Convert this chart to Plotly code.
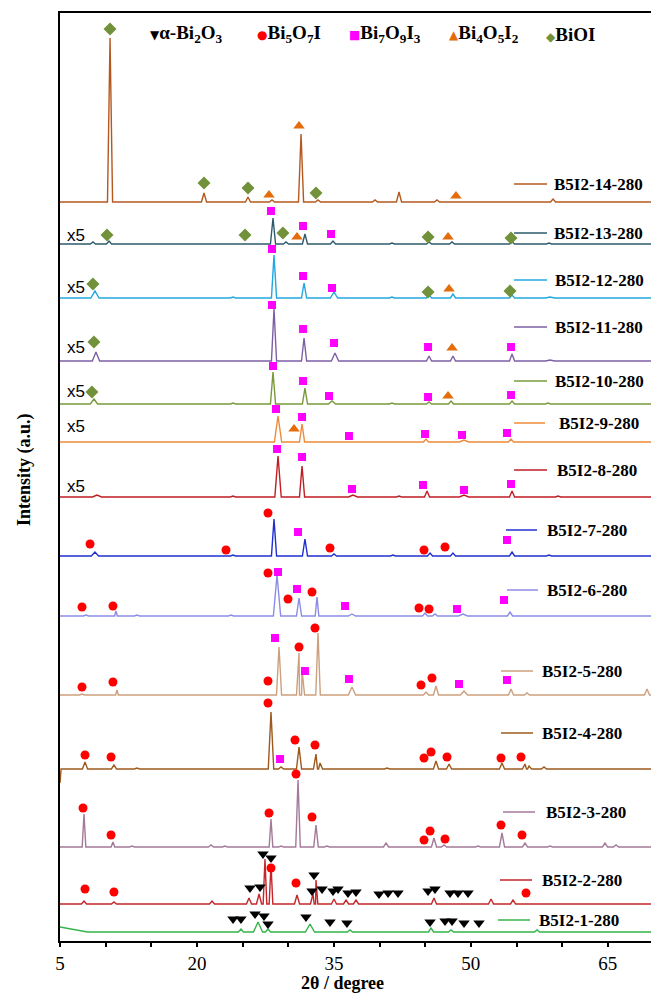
import plotly.graph_objects as go

# ---------------- data (2θ in degree, intensity in a.u. with stacking offsets) ----------------
NAMES = ["B5I2-14-280", "B5I2-13-280", "B5I2-12-280", "B5I2-11-280", "B5I2-10-280",
         "B5I2-9-280", "B5I2-8-280", "B5I2-7-280", "B5I2-6-280", "B5I2-5-280",
         "B5I2-4-280", "B5I2-3-280", "B5I2-2-280", "B5I2-1-280"]
OFFSETS = [739, 697, 643, 580, 537, 499, 444, 385, 325, 246, 172, 94, 37, 9]

# peaks: (2θ, height above baseline[, half width])
PEAKS_14 = [(10.48, 164), (20.77, 9), (25.59, 5), (28.22, 2), (31.40, 68), (33.26, 2),
            (39.50, 2), (42.13, 10), (46.29, 2), (59.00, 3)]
PEAKS_13 = [(8.61, 2), (10.37, 3), (28.33, 26), (29.75, 2), (31.83, 10), (34.90, 3),
            (41.36, 1), (45.42, 2), (47.94, 2), (54.51, 2), (58.56, 1)]
PEAKS_12 = [(8.83, 7, 0.45), (23.95, 1), (28.44, 43), (31.73, 15), (35.01, 6, 0.4), (41.36, 1),
            (45.42, 3), (48.04, 4), (54.51, 3), (58.67, 1, 0.5)]
PEAKS_11 = [(8.94, 9, 0.4), (28.44, 52), (31.73, 23), (35.12, 8, 0.4), (45.42, 5), (48.04, 5),
            (54.51, 7), (58.67, 1, 0.5)]
PEAKS_10 = [(8.72, 5, 0.4), (23.95, 1), (28.33, 32), (31.83, 16), (34.79, 3, 0.4), (41.36, 1),
            (45.42, 2), (47.83, 3), (54.51, 3), (58.45, 1)]
PEAKS_9 = [(28.88, 26, 0.4), (31.51, 18), (45.09, 3), (49.25, 2, 0.5), (54.40, 3)]
PEAKS_8 = [(9.05, 2, 0.5), (23.95, 1), (28.88, 41, 0.35), (31.51, 31), (37.09, 2, 0.5), (42.13, 1),
           (45.20, 6), (49.25, 2, 0.5), (54.51, 6), (59.55, 1)]
PEAKS_7 = [(8.83, 4, 0.4), (23.95, 1), (28.44, 37), (31.83, 17), (35.01, 2), (41.47, 1),
           (45.53, 3), (48.04, 3), (54.51, 4), (58.56, 1)]
PEAKS_6 = [(7.85, 1), (11.13, 5, 0.15), (13.43, 1), (23.73, 1), (28.77, 41, 0.4), (31.18, 18),
           (33.15, 19, 0.2), (36.98, 2, 0.4), (44.98, 3), (46.07, 2), (49.14, 2, 0.5), (54.29, 4)]
PEAKS_5 = [(7.41, 1), (11.24, 5, 0.15), (28.99, 48), (31.18, 42), (31.51, 25), (33.26, 62, 0.25),
           (36.98, 8, 0.4), (45.09, 3), (46.18, 9), (49.25, 4, 0.4), (54.40, 6), (56.15, 2), (69.29, 6)]
PEAKS_4 = [(5.0, -14, 0.12), (7.74, 7), (10.91, 4), (13.43, 1), (28.11, 57, 0.3), (29.21, 2),
           (31.18, 22), (33.04, 15), (33.48, 6), (40.82, 1), (46.18, 8), (47.61, 5), (53.41, 6),
           (55.93, 5), (56.37, 3), (58.01, 2)]
PEAKS_3 = [(7.63, 33, 0.2), (10.80, 5, 0.2), (12.89, 1), (21.54, 2), (23.07, 1), (28.11, 28, 0.2),
           (29.21, 1), (31.07, 67, 0.25), (33.04, 22, 0.25), (34.24, 1), (40.71, 4), (45.96, 9),
           (47.06, 2), (50.78, 1), (53.41, 14), (55.93, 4), (58.67, 1), (64.69, 4), (65.90, 2)]
PEAKS_2 = [(7.63, 3), (10.91, 2), (21.65, 3), (25.70, 6), (26.80, 10), (27.45, 45, 0.2),
           (28.11, 40, 0.2), (30.96, 9), (32.71, 10), (33.04, 24, 0.2), (35.01, 5), (36.33, 4),
           (37.42, 4), (45.96, 6), (52.21, 5), (54.62, 4)]
PEAKS_1 = [(5.0, 5, 3.0), (24.82, 3), (26.69, 10, 0.5), (27.78, 3), (32.38, 8, 0.5), (36.76, 2),
           (45.64, 4), (47.83, 2), (57.25, 2)]
ALL_PEAKS = [PEAKS_14, PEAKS_13, PEAKS_12, PEAKS_11, PEAKS_10, PEAKS_9, PEAKS_8,
             PEAKS_7, PEAKS_6, PEAKS_5, PEAKS_4, PEAKS_3, PEAKS_2, PEAKS_1]

# phase markers (2θ, stacked intensity)
BIOI_X = [10.48, 20.77, 25.59, 33.04, 10.15, 25.26, 29.42, 45.31, 54.40, 8.61, 45.31, 54.29, 8.72, 8.50]
BIOI_Y = [912, 758, 753, 748, 706, 706, 708, 704, 703, 657, 649, 650, 599, 549]

BI4_X = [27.89, 31.18, 48.37, 30.96, 47.50, 47.61, 47.94, 47.50, 30.63]
BI4_Y = [746, 815, 745, 704, 704, 652, 593, 545, 512]

BI7_X = [28.11, 31.62, 34.68, 28.22, 31.62, 34.79, 28.22, 31.62, 35.01, 45.31, 54.40,
         28.33, 31.62, 34.46, 45.31, 54.40, 28.66, 31.51, 36.65, 44.98, 49.03, 53.96,
         28.77, 31.51, 36.98, 44.76, 49.25, 54.40, 31.07, 53.96,
         28.88, 30.96, 36.22, 48.48, 53.63, 28.55, 31.83, 36.65, 48.70, 53.96, 29.10]
BI7_Y = [730, 715, 707, 692, 665, 653, 636, 612, 598, 594, 594,
         575, 560, 545, 544, 546, 532, 524, 505, 507, 506, 508,
         492, 484, 452, 456, 451, 457, 409, 401,
         369, 352, 335, 332, 341, 303, 270, 262, 257, 261, 182]

BI5_X = [8.29, 23.18, 27.78, 34.57, 44.87, 47.17,
         7.41, 10.80, 27.78, 29.97, 32.60, 44.32, 45.42,
         7.41, 10.80, 27.78, 31.18, 32.93, 44.54, 45.74,
         7.74, 10.59, 27.78, 30.74, 32.93, 44.87, 45.64, 47.39, 53.30, 55.49,
         7.52, 10.59, 27.89, 30.85, 32.60, 44.87, 45.53, 47.17, 53.30, 55.60,
         7.74, 10.91, 28.11, 30.85, 56.04]
BI5_Y = [397, 391, 428, 393, 391, 394,
         334, 335, 368, 342, 349, 333, 332,
         254, 259, 260, 294, 313, 256, 263,
         186, 184, 238, 201, 196, 183, 189, 184, 183, 184,
         133, 106, 128, 167, 124, 101, 110, 102, 116, 106,
         52, 49, 73, 58, 48]

BI2O3_X = [25.81, 26.91, 27.23, 28.11, 32.82, 32.60, 33.70, 34.90, 35.45, 36.54, 37.42, 39.94,
           40.93, 42.02, 45.31, 46.07, 47.72, 48.59, 49.69,
           23.95, 24.82, 26.36, 27.34, 27.78, 31.94, 34.57, 36.43, 45.53, 47.17, 47.94, 49.25, 50.89]
BI2O3_Y = [53, 54, 87, 83, 66, 50, 52, 50, 52, 48, 49, 47, 48, 48, 50, 52, 48, 48, 48,
           22, 22, 27, 25, 17, 24, 19, 18, 19, 20, 20, 18, 18]

X5_SERIES = ["B5I2-13-280", "B5I2-12-280", "B5I2-11-280", "B5I2-10-280", "B5I2-9-280", "B5I2-8-280"]
TICKS = [5, 20, 35, 50, 65]

# ---------------- styles / layout ----------------
COLORS = ["#B5581F", "#2E5B6B", "#22A8E0", "#7D5FA5", "#7A9A3A", "#EE8A3A", "#C01D24",
          "#2030D0", "#8C8CE6", "#CCA07E", "#9C5A1C", "#A37A98", "#C4262A", "#33B44A"]
# label line x0, x1, y ; text x
LBL = [(54.73, 58.34, 757, 58.89), (54.73, 58.34, 708, 58.89), (54.73, 58.34, 661, 59.00),
       (54.73, 58.34, 614, 59.00), (54.73, 58.34, 560, 59.00), (54.73, 58.12, 518, 59.44),
       (54.73, 58.34, 471, 59.22), (53.85, 57.25, 411, 58.12), (53.96, 57.35, 351, 58.12),
       (53.30, 56.81, 270, 57.57), (53.30, 56.81, 208, 57.57), (53.52, 57.03, 129, 58.01),
       (53.19, 56.70, 61, 57.57), (52.97, 56.48, 21, 57.25)]
X5_Y = [706, 654, 594, 550, 515, 455]
HW = 0.28
X_START, X_END = 4.0, 70.0
FONT = "Liberation Serif"


def profile(peaks, offset):
    pts = [(X_START, 0.0), (X_END, 0.0)]
    for pk in peaks:
        pos, h = pk[0], pk[1]
        w = pk[2] if len(pk) > 2 else HW
        pts += [(pos - w, 0.0), (pos, h), (pos + w, 0.0)]
    pts.sort()
    return [p[0] for p in pts], [offset + p[1] for p in pts]


fig = go.Figure()
for name, off, peaks, col in zip(NAMES, OFFSETS, ALL_PEAKS, COLORS):
    xs, ys = profile(peaks, off)
    fig.add_trace(go.Scatter(x=xs, y=ys, mode="lines", name=name,
                             line=dict(color=col, width=1.4), showlegend=False, hoverinfo="skip"))

marker_sets = [
    (BI2O3_X, BI2O3_Y, "triangle-down", "#000000", 10),
    (BI5_X, BI5_Y, "circle", "#FF0000", 9),
    (BI7_X, BI7_Y, "square", "#FF00FF", 8),
    (BI4_X, BI4_Y, "triangle-up", "#E46C0A", 10),
    (BIOI_X, BIOI_Y, "diamond", "#71913A", 10),
]
for xs, ys, sym, col, sz in marker_sets:
    fig.add_trace(go.Scatter(x=xs, y=ys, mode="markers", showlegend=False, hoverinfo="skip",
                             marker=dict(symbol=sym, color=col, size=sz, line=dict(width=0))))

# per-series labels
for name, col, (x0, x1, y, tx) in zip(NAMES, COLORS, LBL):
    fig.add_shape(type="line", xref="x", yref="y", x0=x0, x1=x1, y0=y, y1=y,
                  line=dict(color=col, width=1.5))
    fig.add_annotation(x=tx, y=y, xref="x", yref="y", text="<b>%s</b>" % name, showarrow=False,
                       xanchor="left", yanchor="middle", font=dict(family=FONT, size=17, color="black"))

for name, y in zip(X5_SERIES, X5_Y):
    fig.add_annotation(x=5.6, y=y, xref="x", yref="y", text="x5", showarrow=False,
                       xanchor="left", yanchor="middle",
                       font=dict(family="Liberation Sans", size=17, color="black"))

# top legend
sym_style = "font-family:'DejaVu Sans';font-size:12px;fill:%s"
LEG = [(148, "#000000", "▼", "α-Bi<sub>2</sub>O<sub>3</sub>"),
       (255, "#FF0000", "●", "Bi<sub>5</sub>O<sub>7</sub>I"),
       (347, "#FF00FF", "■", "Bi<sub>7</sub>O<sub>9</sub>I<sub>3</sub>"),
       (447, "#E46C0A", "▲", "Bi<sub>4</sub>O<sub>5</sub>I<sub>2</sub>"),
       (544, "#71913A", "◆", "BiOI")]
for px, col, sym, txt in LEG:
    fig.add_annotation(x=(px - 60) / 591, y=(941 - 34) / 928, xref="paper", yref="paper",
                       text='<span style="%s">%s</span><b>%s</b>' % (sym_style % col, sym, txt),
                       showarrow=False, xanchor="left", yanchor="middle",
                       font=dict(family=FONT, size=19, color="black"))

# axis titles
fig.add_annotation(x=(342 - 60) / 591, y=(941 - 983) / 928, xref="paper", yref="paper",
                   text="<b>2θ / degree</b>", showarrow=False, xanchor="center", yanchor="middle",
                   font=dict(family=FONT, size=18, color="black"))
fig.add_annotation(x=(25 - 60) / 591, y=(941 - 470) / 928, xref="paper", yref="paper",
                   text="<b>Intensity (a.u.)</b>", showarrow=False, textangle=-90,
                   xanchor="center", yanchor="middle",
                   font=dict(family=FONT, size=18, color="black"))

fig.update_layout(
    width=651, height=994,
    margin=dict(l=60, r=0, t=13, b=53),
    plot_bgcolor="white", paper_bgcolor="white",
    font=dict(family=FONT, color="black"),
    xaxis=dict(range=[5, 69.73], tickmode="array", tickvals=TICKS,
               ticktext=[str(t) for t in TICKS],
               ticks="outside", ticklen=4, tickwidth=2, tickcolor="black",
               minor=dict(tickmode="linear", tick0=5, dtick=5, ticks="outside", ticklen=4,
                          tickwidth=1.5, tickcolor="black"),
               showline=True, linewidth=2, linecolor="black", mirror=True,
               showgrid=False, zeroline=False, tickfont=dict(family=FONT, size=19)),
    yaxis=dict(range=[0, 928], showticklabels=False, ticks="", showline=True, linewidth=2,
               linecolor="black", showgrid=False, zeroline=False),
)

fig.write_html("out.html", config={"displayModeBar": False},
               post_script="document.body.style.margin='0';document.body.style.overflow='hidden';")
